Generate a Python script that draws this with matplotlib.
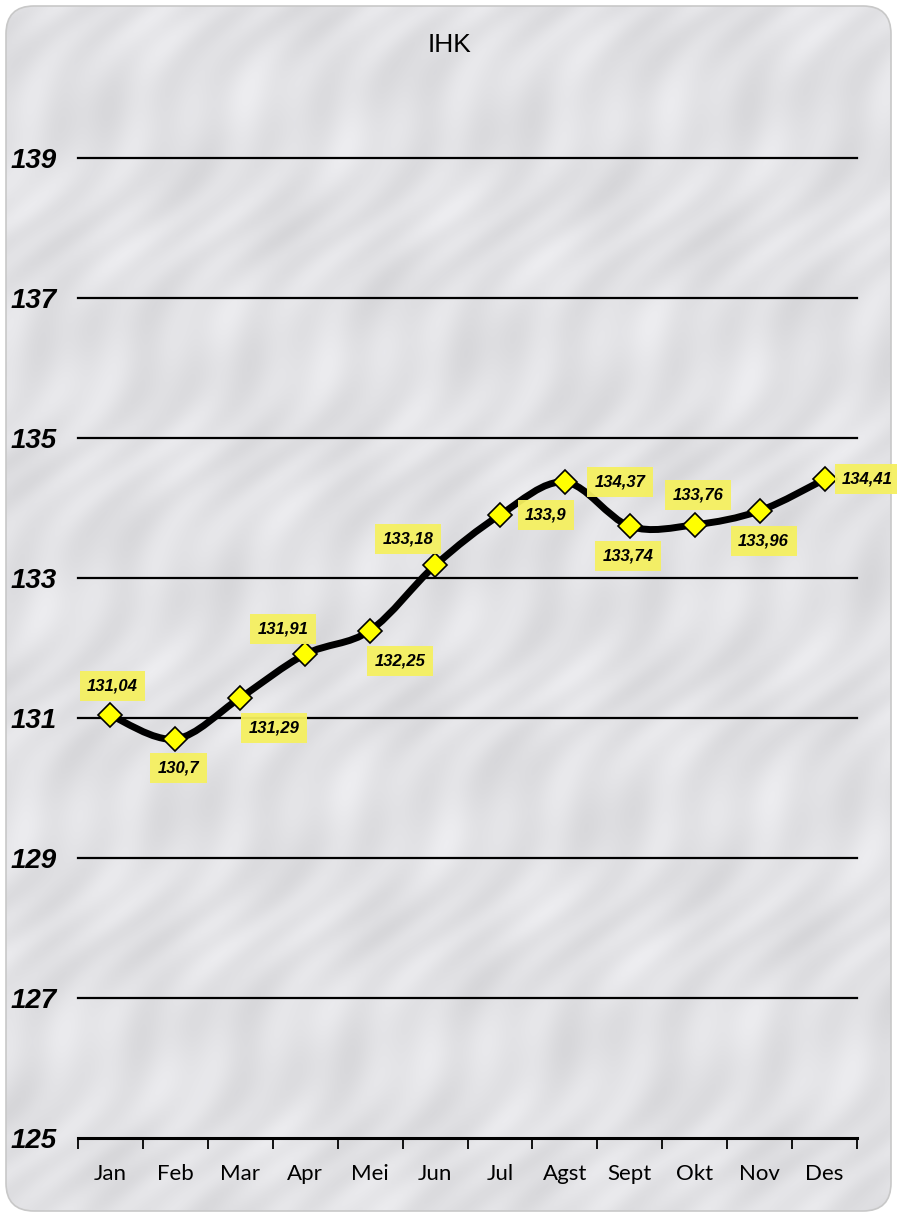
import numpy as np
import matplotlib
matplotlib.use("Agg")
import matplotlib.pyplot as plt
from matplotlib.path import Path
from matplotlib.patches import PathPatch, FancyBboxPatch

months = ["Jan", "Feb", "Mar", "Apr", "Mei", "Jun", "Jul", "Agst", "Sept", "Okt", "Nov", "Des"]
ihk = [131.04, 130.7, 131.29, 131.91, 132.25, 133.18, 133.9, 134.37, 133.74, 133.76, 133.96, 134.41]
labels = ["131,04", "130,7", "131,29", "131,91", "132,25", "133,18", "133,9", "134,37", "133,74", "133,76", "133,96", "134,41"]
yticks = [125, 127, 129, 131, 133, 135, 137, 139]
# label offsets in pixels (dx, dy) relative to the point
offsets = [(2, 29), (3, -29), (34, -30), (-22, 25), (30, -30), (-27, 26), (46, 0), (55, 0), (-2, -30), (3, 30), (4, -30), (43, 0)]

W, H = 897, 1217
fig = plt.figure(figsize=(W / 100, H / 100), dpi=100)
fig.patch.set_facecolor("white")

# background panel with rounded corners and a soft marble-like shading
bg = fig.add_axes([0, 0, 1, 1], zorder=-10)
bg.set_xlim(0, W)
bg.set_ylim(H, 0)
bg.axis("off")
yy, xx = np.mgrid[0:H:2, 0:W:2]
tex = (0.5 * np.sin((xx + yy * 0.8) / 23.0) * np.sin((xx * 0.6 - yy) / 41.0)
       + 0.3 * np.sin((xx * 1.3 + yy) / 11.0 + np.sin(yy / 37.0) * 3)
       + 0.2 * np.sin((xx - yy * 1.7) / 57.0))
shade = 0.885 + 0.045 * tex
img = np.dstack([shade, shade, shade + 0.012]).clip(0, 1)
panel = FancyBboxPatch((6, 6), W - 12, H - 12, boxstyle="round,pad=0,rounding_size=28",
                       facecolor="none", edgecolor="#c8c8c8", linewidth=1.2)
bg.add_patch(panel)
im = bg.imshow(img, extent=(0, W, H, 0), interpolation="bilinear", zorder=0)
im.set_clip_path(panel)

ax = fig.add_axes([78 / W, (H - 1138) / H, (857 - 78) / W, (1138 - 158) / H])
ax.patch.set_alpha(0)
x = np.arange(len(months))
ax.set_xlim(-0.5, len(months) - 0.5)
ax.set_ylim(125, 139)

for yv in yticks[1:]:
    ax.axhline(yv, color="black", lw=1.6, zorder=1, clip_on=False)
for s in ["left", "right", "top"]:
    ax.spines[s].set_visible(False)
ax.spines["bottom"].set_linewidth(2.2)
ax.spines["bottom"].set_zorder(2)

ax.set_yticks(yticks)
ax.set_yticklabels([str(v) for v in yticks], fontsize=20, fontweight="bold", style="italic",
                   family="Liberation Sans")
ax.tick_params(axis="y", length=0, pad=15)
ax.set_xticks(np.arange(-0.5, len(months), 1.0))
ax.set_xticklabels([])
ax.set_xticks(x, minor=True)
ax.set_xticklabels(months, minor=True, fontsize=16, family="Lato")
ax.tick_params(axis="x", which="major", length=8, width=1.3, direction="out")
ax.tick_params(axis="x", which="minor", length=0, pad=19)

# smooth line (Catmull-Rom converted to cubic Bezier)
pts = np.column_stack([x, ihk]).astype(float)
verts = [tuple(pts[0])]
codes = [Path.MOVETO]
t = 1.0 / 6.0
for i in range(len(pts) - 1):
    p0 = pts[i - 1] if i > 0 else pts[i]
    p1 = pts[i]
    p2 = pts[i + 1]
    p3 = pts[i + 2] if i + 2 < len(pts) else pts[i + 1]
    c1 = p1 + (p2 - p0) * t
    c2 = p2 - (p3 - p1) * t
    verts += [tuple(c1), tuple(c2), tuple(p2)]
    codes += [Path.CURVE4] * 3
ax.add_patch(PathPatch(Path(verts, codes), facecolor="none", edgecolor="black", lw=5,
                       capstyle="round", zorder=3))
ax.plot(x, ihk, linestyle="none", marker="D", markersize=12, markerfacecolor="#ffff00",
        markeredgecolor="black", markeredgewidth=1.2, zorder=4)

for xi, yi, lab, (dx, dy) in zip(x, ihk, labels, offsets):
    ax.annotate(lab, (xi, yi), xytext=(dx * 0.72, dy * 0.72), textcoords="offset points",
                ha="center", va="center", fontsize=12, fontweight="bold", style="italic",
                family="Liberation Sans", zorder=5,
                bbox=dict(boxstyle="square,pad=0.45", facecolor="#f5f060", edgecolor="none", alpha=0.95))

fig.text(449 / W, 1 - 45 / H, "IHK", ha="center", va="center", fontsize=19, family="Liberation Sans")

fig.savefig("out.png", dpi=100)
